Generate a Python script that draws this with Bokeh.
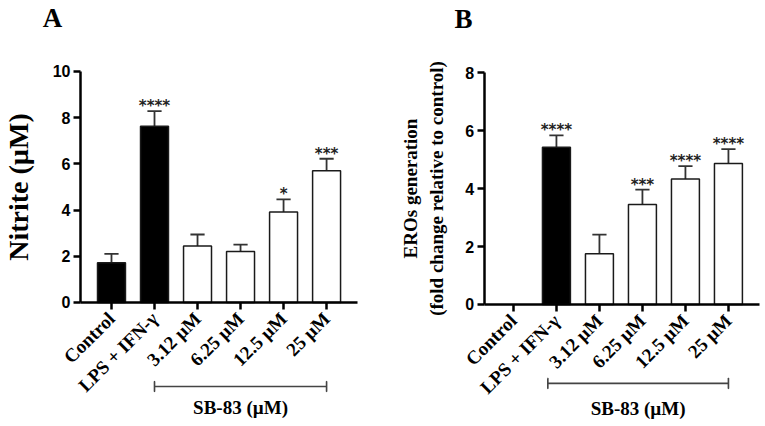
import math
from bokeh.plotting import figure
from bokeh.layouts import row
from bokeh.models import ColumnDataSource, Range1d, FixedTicker
from bokeh.core.properties import value
from bokeh.embed import file_html
from bokeh.resources import INLINE

# ---------------- data ----------------
categories = ["Control", "LPS + IFN-γ", "3.12 µM", "6.25 µM", "12.5 µM", "25 µM"]
bar_colors = ["black", "black", "white", "white", "white", "white"]

nitrite = [1.72, 7.63, 2.44, 2.20, 3.91, 5.70]
nitrite_err = [0.38, 0.65, 0.50, 0.30, 0.55, 0.52]
nitrite_sig = ["", "****", "", "", "*", "***"]
nitrite_ticks = [0, 2, 4, 6, 8, 10]

eros = [0.0, 5.42, 1.75, 3.45, 4.33, 4.86]
eros_err = [0.0, 0.41, 0.66, 0.51, 0.44, 0.50]
eros_sig = ["", "****", "", "***", "****", "****"]
eros_ticks = [0, 2, 4, 6, 8]

group_label = "SB-83 (µM)"
panel_letters = ["A", "B"]
ylabel_a = "Nitrite (µM)"
ylabel_b = "EROs generation\n(fold change relative to control)"

SERIF = "Liberation Serif"
SANS = "Liberation Sans"


def make_panel(vals, errs, sigs, ticks, ylabel, ylabel_size, letter, width,
               xview, yview, xbounds, ymax, letter_xy, bracket_x, bracket_y,
               group_y, ylabel_standoff):
    n = len(categories)
    idx = list(range(n))
    keep = [i for i in idx if vals[i] > 0]
    bars = ColumnDataSource(dict(
        x=[idx[i] for i in keep],
        top=[vals[i] for i in keep],
        err_top=[vals[i] + errs[i] for i in keep],
        cap_l=[idx[i] - 0.165 for i in keep],
        cap_r=[idx[i] + 0.165 for i in keep],
        color=[bar_colors[i] for i in keep],
        sig=[sigs[i] for i in keep],
    ))

    p = figure(width=width, height=426, output_backend="svg", toolbar_location=None,
               x_range=Range1d(*xview), y_range=Range1d(*yview),
               min_border_left=0, min_border_right=0,
               min_border_top=0, min_border_bottom=0)
    p.outline_line_color = None
    p.grid.visible = False
    p.background_fill_color = "white"
    p.border_fill_color = "white"

    # error bars (upper only)
    p.segment(x0="x", y0="top", x1="x", y1="err_top", source=bars,
              line_color="#333333", line_width=1.8)
    p.segment(x0="cap_l", y0="err_top", x1="cap_r", y1="err_top", source=bars,
              line_color="#333333", line_width=1.8)
    # bars
    p.vbar(x="x", top="top", bottom=0, width=0.65, source=bars,
           fill_color="color", line_color="#1a1a1a", line_width=1.5)
    # significance stars
    p.text(x="x", y="err_top", text="sig", source=bars,
           text_font=value("DejaVu Sans"), text_font_style="bold",
           text_font_size="15px", text_align="center",
           text_baseline="middle", y_offset=-5, text_color="#222222")

    # axes (placed at data positions so the frame can span the whole canvas)
    p.xaxis.fixed_location = 0
    p.xaxis.bounds = xbounds
    p.xaxis.ticker = FixedTicker(ticks=idx)
    p.xaxis.major_label_overrides = {i: c for i, c in enumerate(categories)}
    p.xaxis.major_label_orientation = math.pi / 4
    p.xaxis.major_label_text_font = SERIF
    p.xaxis.major_label_text_font_style = "bold"
    p.xaxis.major_label_text_font_size = "19px"
    p.xaxis.major_label_text_color = "black"
    p.xaxis.major_label_standoff = 6

    p.yaxis.fixed_location = xbounds[0]
    p.yaxis.bounds = (0, ymax)
    p.yaxis.ticker = FixedTicker(ticks=ticks)
    p.yaxis.major_label_text_font = SANS
    p.yaxis.major_label_text_font_style = "bold"
    p.yaxis.major_label_text_font_size = "16px"
    p.yaxis.major_label_text_color = "black"
    p.yaxis.major_label_standoff = 3
    p.yaxis.axis_label = ylabel
    p.yaxis.axis_label_text_font = SERIF
    p.yaxis.axis_label_text_font_style = "bold"
    p.yaxis.axis_label_text_font_size = ylabel_size
    p.yaxis.axis_label_text_color = "black"
    p.yaxis.axis_label_standoff = ylabel_standoff

    for ax in (p.xaxis, p.yaxis):
        ax.axis_line_width = 2.5
        ax.axis_line_color = "black"
        ax.major_tick_line_width = 2.5
        ax.major_tick_line_color = "black"
        ax.major_tick_out = 7
        ax.major_tick_in = 0
        ax.minor_tick_line_color = None

    # panel letter
    p.text(x=[letter_xy[0]], y=[letter_xy[1]], text=[letter],
           text_font=value(SERIF), text_font_style="bold", text_font_size="27px",
           text_align="center", text_baseline="middle", text_color="black")
    # group bracket
    bx0, bx1 = bracket_x
    p.segment(x0=[bx0], y0=[bracket_y], x1=[bx1], y1=[bracket_y],
              line_color="#444444", line_width=1.6)
    p.rect(x=[bx0, bx1], y=[bracket_y, bracket_y], width=0.001, height=10,
           height_units="screen", line_color="#444444", line_width=1.6, fill_color=None)
    p.text(x=[(bx0 + bx1) / 2], y=[group_y], text=[group_label],
           text_font=value(SERIF), text_font_style="bold", text_font_size="19px",
           text_align="center", text_baseline="middle", text_color="black")
    return p


# panel A: 0..10 spans y 302->71 px, categories spaced 43 px, axis from x=80 px
pA = make_panel(nitrite, nitrite_err, nitrite_sig, nitrite_ticks, ylabel_a, "28px",
                panel_letters[0], width=382,
                xview=(-2.58, 6.30), yview=(-5.37, 13.07), xbounds=(-0.72, 5.72), ymax=10,
                letter_xy=(-1.37, 12.3), bracket_x=(1, 5), bracket_y=-3.64,
                group_y=-4.55, ylabel_standoff=16)

pB = make_panel(eros, eros_err, eros_sig, eros_ticks, ylabel_b, "19px",
                panel_letters[1], width=383,
                xview=(-3.045, 5.862), yview=(-4.207, 10.483), xbounds=(-0.68, 5.72), ymax=8,
                letter_xy=(-1.16, 9.86), bracket_x=(0.8, 5), bracket_y=-2.72,
                group_y=-3.59, ylabel_standoff=16)

layout = row(pA, pB)
open("out.html", "w").write(file_html(layout, INLINE))
